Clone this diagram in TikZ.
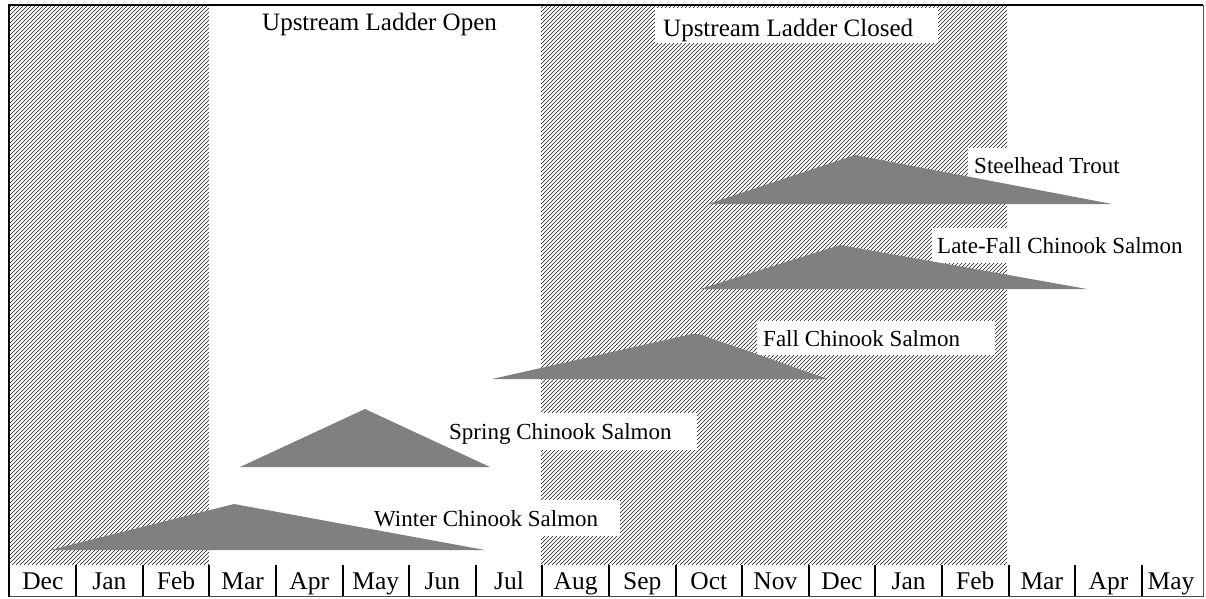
\documentclass[tikz,border=0pt]{standalone}
\usepackage{fontspec}
\setmainfont{Liberation Serif}
\begin{document}
\begin{tikzpicture}[x=1pt,y=-1pt,
  hatchline/.style={line width=0.6pt,black!90},
  tri/.style={fill=black!50},
  sepline/.style={line width=2pt,black},
  month/.style={font=\fontsize{25.5}{29}\selectfont,inner sep=0pt,anchor=base},
  box/.style={fill=white,inner sep=0pt,anchor=north west},
  txt/.style={font=\fontsize{25}{29}\selectfont,inner sep=0pt,anchor=base west},
  stxt/.style={font=\fontsize{23}{27}\selectfont,inner sep=0pt,anchor=base west}]
\useasboundingbox (0,0) rectangle (1206,598);
\fill[white] (0,0) rectangle (1206,598);
% hatched periods
\begin{scope}
  \clip (9,5) rectangle (209,565);
  \foreach \a in {-560,-556,...,212} \draw[hatchline] (\a,565) -- ++(560,-560);
\end{scope}
\begin{scope}
  \clip (541,5) rectangle (1007,565);
  \foreach \a in {-20,-16,...,1010} \draw[hatchline] (\a,565) -- ++(560,-560);
\end{scope}
% label backgrounds
\node[box,minimum width=283pt,minimum height=35pt] (closedbox) at (655,8) {};
\node[box,minimum width=170pt,minimum height=55pt] (steelbox) at (968,148) {};
\node[box,minimum width=260pt,minimum height=35pt] (latebox) at (932,228) {};
\node[box,minimum width=238pt,minimum height=34pt] (fallbox) at (757,321) {};
\node[box,minimum width=255pt,minimum height=37pt] (springbox) at (442,413) {};
\node[box,minimum width=253pt,minimum height=36pt] (winterbox) at (367,500) {};
% labels
\node[txt] (open) at (262,30) {Upstream Ladder Open};
\node[txt] (closed) at (663,36) {Upstream Ladder Closed};
\node[stxt] (steel) at (974,173) {Steelhead Trout};
\node[stxt] (late) at (937,253) {Late-Fall Chinook Salmon};
\node[stxt] (fall) at (763,346) {Fall Chinook Salmon};
\node[stxt] (spring) at (449,439) {Spring Chinook Salmon};
\node[stxt] (winter) at (374,526) {Winter Chinook Salmon};
% run triangles
\fill[tri] (708,204) -- (855,155) -- (1112,204) -- cycle;
\fill[tri] (700,289) -- (840,245) -- (1087,289) -- cycle;
\fill[tri] (492,379) -- (692,334) -- (699,334) -- (828,379) -- cycle;
\fill[tri] (240,467) -- (365,409) -- (490,467) -- cycle;
\fill[tri] (50,550) -- (234,504) -- (485,550) -- cycle;
% months
\foreach \x/\m [count=\i] in {42.8/Dec,109.4/Jan,176/Feb,242.6/Mar,309.2/Apr,375.8/May,442.4/Jun,509/Jul,575.6/Aug,642.2/Sep,708.8/Oct,775.4/Nov,842/Dec,908.6/Jan,975.2/Feb,1041.8/Mar,1108.4/Apr,1171/May}
  \node[month] (m\i) at (\x,589) {\m};
\foreach \k in {1,...,17} \draw[sepline] ({9.5+66.6*\k},565) -- ({9.5+66.6*\k},596);
% frame
\draw[line width=1pt,black!70] (9,5) rectangle (1203,596.5);
\draw[line width=2.2pt,black] (9,596.5) -- (9,5) -- (1203,5);
\end{tikzpicture}
\end{document}
